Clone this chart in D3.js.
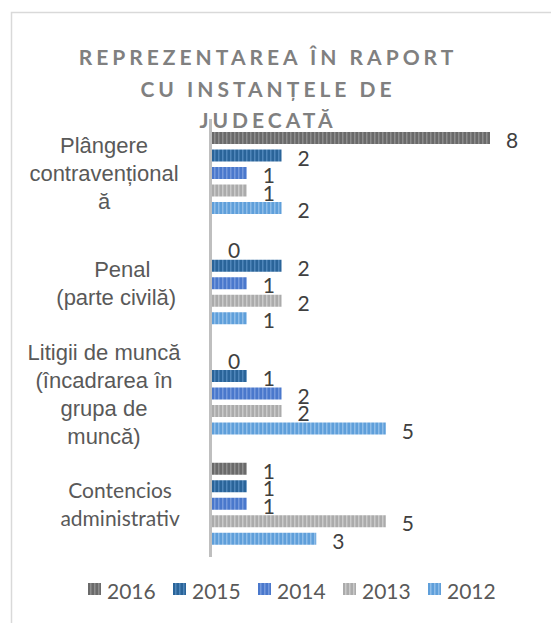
<!DOCTYPE html>
<html>
<head>
<meta charset="utf-8">
<script src="https://cdn.jsdelivr.net/npm/d3@7"></script>
<style>
  body { margin: 0; background: #fff; }
  svg { display: block; }
</style>
</head>
<body>
<div class="container"></div>
<script>
var w = 551;
var h = 623;

// data
var categories = ["Plângere contravențională", "Penal (parte civilă)", "Litigii de muncă (încadrarea în grupa de muncă)", "Contencios administrativ"];
var labelLines = [
  ["Plângere", "contravențional", "ă"],
  ["\u00a0\u00a0\u00a0\u00a0\u00a0\u00a0Penal", "\u00a0\u00a0\u00a0\u00a0(parte civilă)"],
  ["Litigii de muncă", "(încadrarea în", "grupa de", "muncă)"],
  ["\u00a0\u00a0\u00a0\u00a0\u00a0\u00a0Contencios", "\u00a0\u00a0\u00a0\u00a0\u00a0\u00a0administrativ"]
];
var years = ["2016", "2015", "2014", "2013", "2012"];
var v2016 = [8, 0, 0, 1];
var v2015 = [2, 2, 1, 1];
var v2014 = [1, 1, 2, 1];
var v2013 = [1, 2, 2, 5];
var v2012 = [2, 1, 5, 3];
var titleLines = ["REPREZENTAREA  ÎN RAPORT", "CU INSTANȚELE DE", "JUDECATĂ"];

var series = [v2016, v2015, v2014, v2013, v2012];
var colors = ["#6a6a6a", "#2a6499", "#4a78cc", "#ababab", "#5f9fda"];
var stripes = ["#8e8e8e", "#4f86ba", "#7599dc", "#cacaca", "#8fbde8"];

var svg = d3.select(".container").append("svg").attr("width", w).attr("height", h);

var defs = svg.append("defs");
years.forEach(function(yr, i){
  var p = defs.append("pattern").attr("id", "pat" + yr)
    .attr("patternUnits", "userSpaceOnUse").attr("width", 4).attr("height", 4);
  p.append("rect").attr("width", 4).attr("height", 4).attr("fill", colors[i]);
  p.append("rect").attr("x", 2).attr("width", 1.5).attr("height", 4).attr("fill", stripes[i]);
});

// chart frame
svg.append("rect").attr("x", 11.5).attr("y", 12.5).attr("width", 700).attr("height", 700)
  .attr("fill", "none").attr("stroke", "#d9d9d9").attr("stroke-width", 1.5);

// title
svg.append("text").attr("x", 268).attr("y", 65)
  .attr("text-anchor", "middle")
  .style("font-family", "Lato").style("font-weight", "bold").style("font-size", "21px")
  .style("letter-spacing", "4px").attr("fill", "#808080")
  .selectAll("tspan").data(titleLines).enter().append("tspan")
  .attr("x", 268).attr("dy", function(d, i){ return i ? 31.5 : 0; })
  .text(function(d){ return d; });

var x = d3.scaleLinear().domain([0, 8]).range([212, 490]);
var y0 = d3.scaleBand().domain(categories).range([119, 560]);
var y1 = d3.scaleBand().domain(years).range([13, 100.5]);
var barH = 12;

// bars
var groups = svg.selectAll("g.cat").data(categories).enter().append("g")
  .attr("class", "cat")
  .attr("transform", function(d){ return "translate(0," + y0(d) + ")"; });

groups.each(function(cat, ci){
  var g = d3.select(this);
  var rows = years.map(function(yr, si){ return {year: yr, value: series[si][ci]}; });
  g.selectAll("rect").data(rows).enter().append("rect")
    .attr("x", x(0))
    .attr("y", function(d){ return y1(d.year); })
    .attr("width", function(d){ return x(d.value) - x(0); })
    .attr("height", barH)
    .attr("fill", function(d){ return "url(#pat" + d.year + ")"; });
  g.selectAll("text.val").data(rows).enter().append("text")
    .attr("class", "val")
    .attr("x", function(d){ return x(d.value) + 16; })
    .attr("y", function(d){ return y1(d.year) + 16; })
    .style("font-family", "Lato").style("font-size", "21px").attr("fill", "#404040")
    .text(function(d){ return d.value; });
});

// vertical axis line
svg.append("line").attr("x1", 210.5).attr("x2", 210.5).attr("y1", 119).attr("y2", 557)
  .attr("stroke", "#bfbfbf").attr("stroke-width", 3);

// category labels
svg.selectAll("text.cat").data(categories).enter().append("text")
  .attr("class", "cat")
  .attr("text-anchor", "middle")
  .attr("fill", "#595959")
  .style("font-family", function(d, i){ return i === 3 ? "Lato" : "Liberation Sans"; })
  .style("font-size", function(d, i){ return i === 3 ? "21px" : "22px"; })
  .style("white-space", "pre")
  .each(function(d, i){
    var lines = labelLines[i];
    var lh = 28;
    var cy = y0(d) + y0.bandwidth() / 2;
    var first = cy - (lines.length - 1) * lh / 2 + 7;
    d3.select(this).selectAll("tspan").data(lines).enter().append("tspan")
      .attr("x", 104).attr("y", function(l, k){ return first + k * lh; })
      .text(function(l){ return l; });
  });

// legend
var legend = svg.append("g").attr("transform", "translate(88,583)");
var items = legend.selectAll("g").data(years).enter().append("g")
  .attr("transform", function(d, i){ return "translate(" + (i * 85) + ",0)"; });
items.append("rect").attr("width", 13).attr("height", 12)
  .attr("fill", function(d){ return "url(#pat" + d + ")"; });
items.append("text").attr("x", 19).attr("y", 16)
  .style("font-family", "Lato").style("font-size", "21px").attr("fill", "#595959")
  .text(function(d){ return d; });
</script>
</body>
</html>
